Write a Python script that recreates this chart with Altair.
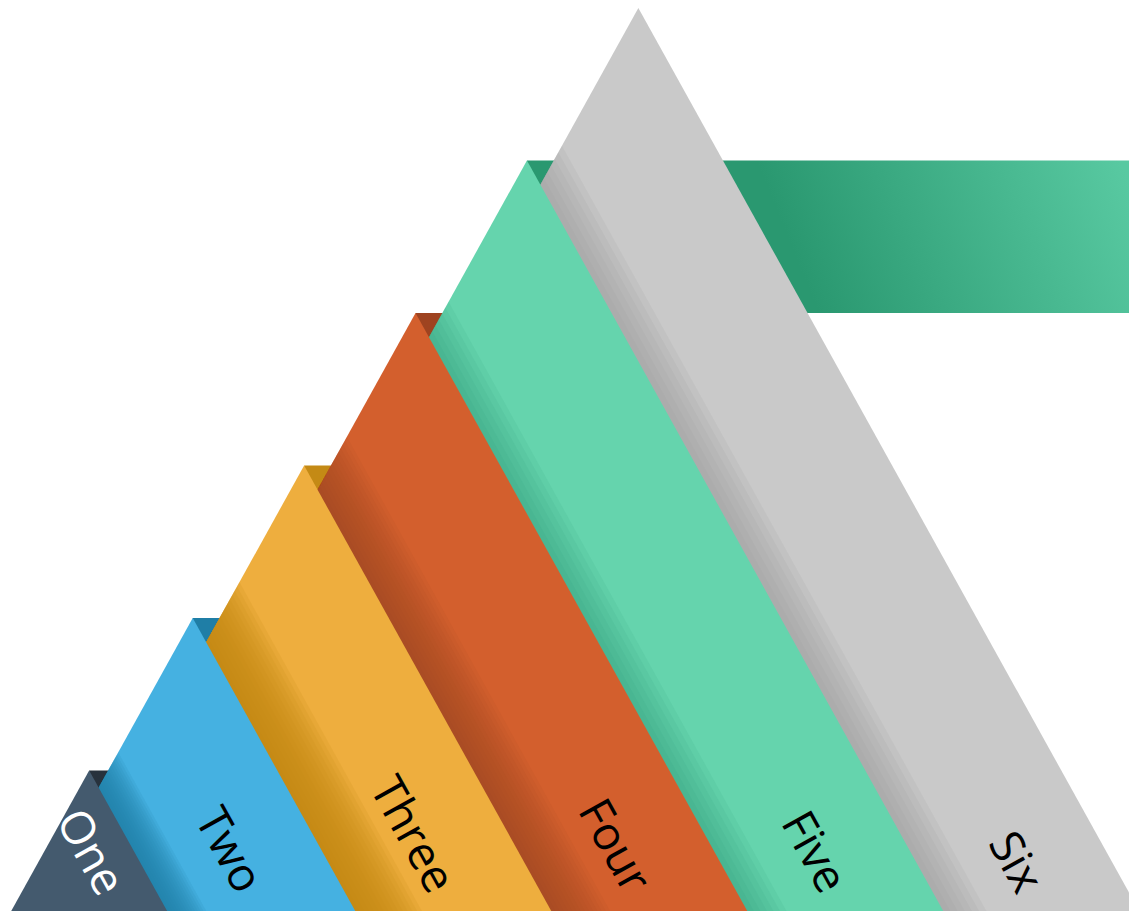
import altair as alt
import numpy as np
import pandas as pd

# ---------------- data ----------------
categories = ["One", "Two", "Three", "Four", "Five", "Six"]
levels = [1, 2, 3, 4, 5, 6]                    # apex level of each band (bottom = 0)
base_widths = [0.86, 0.96, 1.0, 1.0, 1.0, 1.0]  # visible width of each band at the base

# ---------------- style ----------------
band_colors = ["#445a6e", "#45b1e1", "#eeae3e", "#d35f2d", "#65d4ad", "#c9c9c9"]
dark_colors = ["#27323d", "#1f7ea6", "#c48a15", "#9e4320", "#2a9870", "#9a9a9a"]
label_colors = ["#ffffff", "#000000", "#000000", "#000000", "#000000", "#000000"]
shadow_width = [0.0, 0.20, 0.34, 0.30, 0.20, 0.22]
shadow_depth = [0.0, 0.85, 0.90, 0.70, 0.45, 0.55]
shadow_steps = [0, 14, 14, 14, 6, 6]

SLOPE = 0.4316          # side slope of the pyramid (x units per level)
X_DOMAIN = [0.0143, 5.7337]
Y_DOMAIN = [0.0787, 6.0]
LABEL_END_LEVEL = 0.22
FIRST_LABEL_LEVEL = 0.46
FONT = "Open Sans"
FONT_SIZE = 46

xs = alt.Scale(domain=X_DOMAIN, nice=False, zero=False)
ys = alt.Scale(domain=Y_DOMAIN, nice=False, zero=False)

R = np.cumsum(base_widths)                       # right edge of each band at base
A = [R[i] - SLOPE * levels[i] for i in range(6)]  # apex x of each band


def left_edge(i, L):
    return A[i] - SLOPE * (levels[i] - L)


def right_edge(i, L):
    return R[i] - SLOPE * L


def hx():
    return dict(
        y=alt.Y("L:Q", scale=ys, axis=None),
        x=alt.X("x:Q", scale=xs, axis=None),
        x2="x2:Q",
    )


layers = []

# ribbons (folded tops) behind everything
rib_rows = []
for i in range(4):
    rib_rows.append({"c": dark_colors[i], "x": A[i], "x2": A[i + 1],
                     "y": levels[i] - 1, "y2": levels[i]})
rib = pd.DataFrame(rib_rows)
layers.append(
    alt.Chart(rib).mark_rect().encode(
        x=alt.X("x:Q", scale=xs, axis=None), x2="x2:Q",
        y=alt.Y("y:Q", scale=ys, axis=None), y2="y2:Q",
        color=alt.Color("c:N", scale=None, legend=None),
    )
)
rib5 = pd.DataFrame([{"x": A[4], "x2": X_DOMAIN[1] + 0.1, "y": levels[4] - 1, "y2": levels[4]}])
layers.append(
    alt.Chart(rib5).mark_rect(
        color=alt.Gradient(
            gradient="linear",
            stops=[alt.GradientStop(color="#2a9870", offset=0),
                   alt.GradientStop(color="#2a9870", offset=0.42),
                   alt.GradientStop(color="#58c9a1", offset=1)],
            x1=0, y1=0.55, x2=1, y2=0.45,
        )
    ).encode(
        x=alt.X("x:Q", scale=xs, axis=None), x2="x2:Q",
        y=alt.Y("y:Q", scale=ys, axis=None), y2="y2:Q",
    )
)

# bands from top (Six) to bottom (One); each band then its shadow
for i in range(5, -1, -1):
    k = levels[i]
    tri = pd.DataFrame([
        {"L": k, "x": A[i], "x2": A[i]},
        {"L": 0, "x": left_edge(i, 0), "x2": R[i]},
    ])
    layers.append(alt.Chart(tri).mark_area(orient="horizontal", color=band_colors[i], opacity=1).encode(**hx()))

    if i >= 1 and shadow_steps[i] > 0:
        n = shadow_steps[i]
        a = 1 - (1 - shadow_depth[i]) ** (1.0 / n)
        rows = []
        for s in range(1, n + 1):
            w = shadow_width[i] * s / n
            Lt = (R[i - 1] + w - (A[i] - SLOPE * k)) / (2 * SLOPE)
            Lt = min(Lt, k)
            rows.append({"sid": s, "L": Lt, "x": left_edge(i, Lt), "x2": left_edge(i, Lt)})
            rows.append({"sid": s, "L": 0, "x": left_edge(i, 0), "x2": R[i - 1] + w})
        sh = pd.DataFrame(rows)
        layers.append(
            alt.Chart(sh).mark_area(orient="horizontal", color=dark_colors[i], opacity=a).encode(
                detail="sid:N", **hx()
            )
        )

# labels: first one centred on its triangle, others end-aligned near the base
first = pd.DataFrame([{"cat": categories[0], "x": A[0], "L": FIRST_LABEL_LEVEL, "c": label_colors[0]}])
layers.append(
    alt.Chart(first).mark_text(angle=61, fontSize=FONT_SIZE, font=FONT, align="center", baseline="middle").encode(
        x=alt.X("x:Q", scale=xs, axis=None),
        y=alt.Y("L:Q", scale=ys, axis=None),
        text="cat:N",
        color=alt.Color("c:N", scale=None, legend=None),
    )
)
lab_rows = []
for i in range(1, 6):
    L = LABEL_END_LEVEL
    lo = right_edge(i - 1, L)
    hi = right_edge(i, L)
    lab_rows.append({"cat": categories[i], "x": (lo + hi) / 2, "L": L, "c": label_colors[i]})
labs = pd.DataFrame(lab_rows)
layers.append(
    alt.Chart(labs).mark_text(angle=61, fontSize=FONT_SIZE, font=FONT, align="right", baseline="middle").encode(
        x=alt.X("x:Q", scale=xs, axis=None),
        y=alt.Y("L:Q", scale=ys, axis=None),
        text="cat:N",
        color=alt.Color("c:N", scale=None, legend=None),
    )
)

chart = alt.layer(*layers).properties(
    width=1121, height=903, padding=0,
    autosize=alt.AutoSizeParams(type="none"),
).configure_view(stroke=None)

chart.save("out.html", embed_options={"renderer": "svg", "actions": False})
